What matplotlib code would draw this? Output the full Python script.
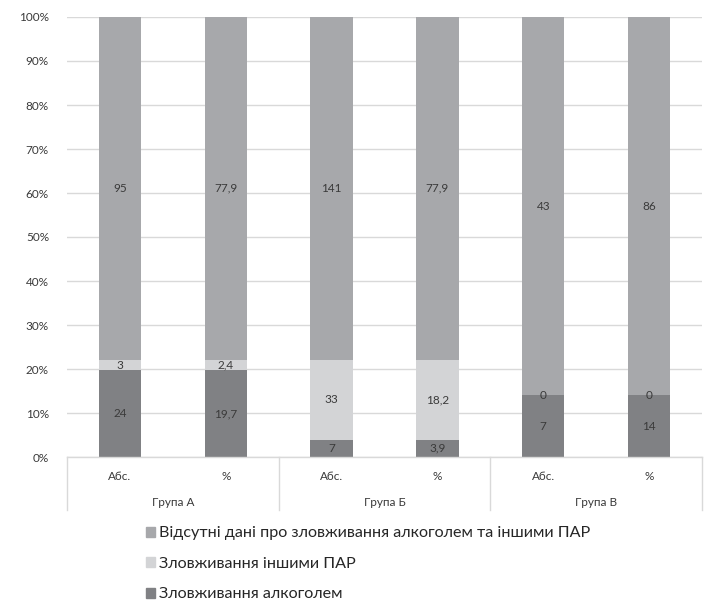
import matplotlib
matplotlib.use("Agg")
import matplotlib.pyplot as plt
from matplotlib.patches import Patch
import numpy as np

plt.rcParams['font.family'] = ['Lato', 'Noto Sans', 'DejaVu Sans']

groups = ["Група А", "Група Б", "Група В"]
sub_labels = ["Абс.", "%", "Абс.", "%", "Абс.", "%"]

alcohol = [24, 19.7, 7, 3.9, 7, 14]
other_pas = [3, 2.4, 33, 18.2, 0, 0]
no_data = [95, 77.9, 141, 77.9, 43, 86]

alcohol_lbl = ["24", "19,7", "7", "3,9", "7", "14"]
other_lbl = ["3", "2,4", "33", "18,2", "0", "0"]
no_data_lbl = ["95", "77,9", "141", "77,9", "43", "86"]

series_names = ["Зловживання алкоголем", "Зловживання іншими ПАР",
                "Відсутні дані про зловживання алкоголем та іншими ПАР"]
colors = ["#808184", "#d3d4d6", "#a7a8ab"]

W, H = 714, 605
fig = plt.figure(figsize=(W / 100, H / 100), dpi=100)
x0, x1, y0, y1 = 67, 702, 457, 17
ax = fig.add_axes([x0 / W, 1 - y0 / H, (x1 - x0) / W, (y0 - y1) / H])

a = np.array(alcohol, float)
o = np.array(other_pas, float)
n = np.array(no_data, float)
tot = a + o + n
pa, po, pn = a / tot * 100, o / tot * 100, n / tot * 100

xs = np.arange(len(sub_labels))
bw = 0.4
ax.bar(xs, pa, bw, color=colors[0], zorder=2)
ax.bar(xs, po, bw, bottom=pa, color=colors[1], zorder=2)
ax.bar(xs, pn, bw, bottom=pa + po, color=colors[2], zorder=2)

fs = 8.5
tc = "#3a3a3a"
for i in xs:
    ax.text(i, pa[i] / 2, alcohol_lbl[i], ha="center", va="center", fontsize=fs, color=tc, zorder=3)
    ax.text(i, pa[i] + po[i] / 2, other_lbl[i], ha="center", va="center", fontsize=fs, color=tc, zorder=3)
    ax.text(i, pa[i] + po[i] + pn[i] / 2, no_data_lbl[i], ha="center", va="center", fontsize=fs, color=tc, zorder=3)

ax.set_xlim(-0.5, len(sub_labels) - 0.5)
ax.set_ylim(0, 100)
ax.set_yticks(np.arange(0, 101, 10))
ax.set_yticklabels([f"{v}%" for v in range(0, 101, 10)], fontsize=8.5, color=tc)
ax.yaxis.grid(True, color="#d9d9d9", linewidth=1, zorder=0)
ax.tick_params(axis="y", length=0, pad=13)
ax.set_xticks([])
for s in ["top", "right", "left"]:
    ax.spines[s].set_visible(False)
ax.spines["bottom"].set_color("#d9d9d9")
ax.spines["bottom"].set_linewidth(1)

# two-level category axis
trans = ax.get_xaxis_transform()
sep_bottom = -(510 - y0) / (y0 - y1)
for xv in [-0.5, 1.5, 3.5, 5.5]:
    ax.plot([xv, xv], [0, sep_bottom], transform=trans, color="#d9d9d9", lw=1, clip_on=False)
lbl_y = -(476 - y0) / (y0 - y1)
grp_y = -(502 - y0) / (y0 - y1)
for i, s in enumerate(sub_labels):
    ax.text(i, lbl_y, s, transform=trans, ha="center", va="center", fontsize=8.5, color=tc)
for g, name in enumerate(groups):
    ax.text(2 * g + 0.5, grp_y, name, transform=trans, ha="center", va="center", fontsize=8.5, color=tc)

# legend
handles = [Patch(color=colors[i]) for i in [2, 1, 0]]
names = [series_names[i] for i in [2, 1, 0]]
fig.legend(handles, names, loc="upper left", bbox_to_anchor=(131 / W, 1 - 512 / H),
           frameon=False, fontsize=11.6, handlelength=0.6, handleheight=0.6,
           handletextpad=0.25, labelspacing=1.02, labelcolor="#262626")

fig.savefig("out.png", dpi=100)
